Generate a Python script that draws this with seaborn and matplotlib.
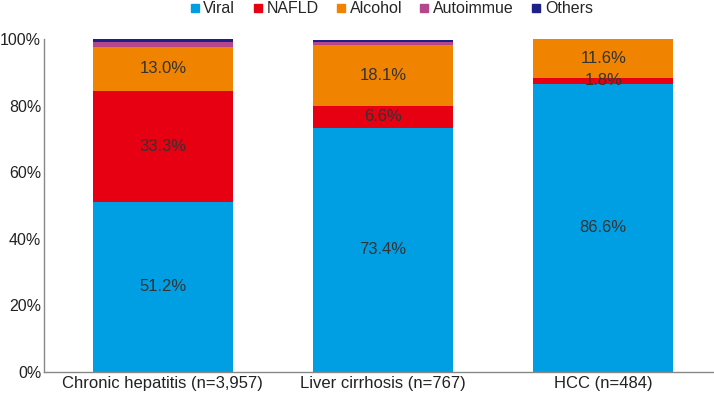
import pandas as pd
import seaborn as sns
import matplotlib.pyplot as plt
from matplotlib.lines import Line2D

groups = ['Chronic hepatitis (n=3,957)', 'Liver cirrhosis (n=767)', 'HCC (n=484)']
causes = ['Viral', 'NAFLD', 'Alcohol', 'Autoimmue', 'Others']
viral = [51.2, 73.4, 86.6]
nafld = [33.3, 6.6, 1.8]
alcohol = [13.0, 18.1, 11.6]
autoimmune = [1.5, 0.9, 0.0]
others = [1.0, 0.8, 0.0]
colors = ['#009FE3', '#E60012', '#F08300', '#B5468B', '#1D2088']

df = pd.DataFrame({'group': groups, 'Viral': viral, 'NAFLD': nafld, 'Alcohol': alcohol,
                   'Autoimmue': autoimmune, 'Others': others})
cum = df[causes].cumsum(axis=1)

sns.set_style('white')
plt.rcParams['font.family'] = ['Liberation Sans', 'DejaVu Sans']

fig = plt.figure(figsize=(7.14, 3.93), dpi=100)
ax = fig.add_axes([0.0616, 0.0534, 0.9384, 0.8474])

# stacked bars: draw cumulative totals from the top segment down
for cause, col in zip(reversed(causes), reversed(colors)):
    sns.barplot(x=df['group'], y=cum[cause], color=col, saturation=1, width=0.635,
                order=groups, ax=ax, linewidth=0)

# segment labels
for i, g in enumerate(groups):
    for cause in ['Viral', 'NAFLD', 'Alcohol']:
        v = df.loc[i, cause]
        mid = cum.loc[i, cause] - v / 2
        ax.text(i, mid, f'{v:.1f}%', ha='center', va='center', fontsize=12, color='#333333')

ax.set_ylim(0, 100)
ax.set_xlim(-0.54, 2.503)
ax.set_yticks(range(0, 101, 20))
ax.set_yticklabels([f'{t}%' for t in range(0, 101, 20)], fontsize=11.5, color='#222222')
ax.set_xticks(range(len(groups)))
ax.set_xticklabels(groups, fontsize=12, color='#222222')
ax.set(xlabel='', ylabel='')
ax.tick_params(axis='y', length=0, pad=2)
ax.tick_params(axis='x', length=0, pad=3)
sns.despine(ax=ax)
for s in ['left', 'bottom']:
    ax.spines[s].set_color('#888888')
    ax.spines[s].set_linewidth(1)

handles = [Line2D([], [], marker='s', linestyle='', color=c, markersize=6) for c in colors]
fig.legend(handles, causes, loc='center', bbox_to_anchor=(0.546, 0.978), ncol=5, frameon=False,
           fontsize=11.5, handletextpad=0.05, columnspacing=0.9, handlelength=1.0)

fig.savefig('out.png', dpi=100)
